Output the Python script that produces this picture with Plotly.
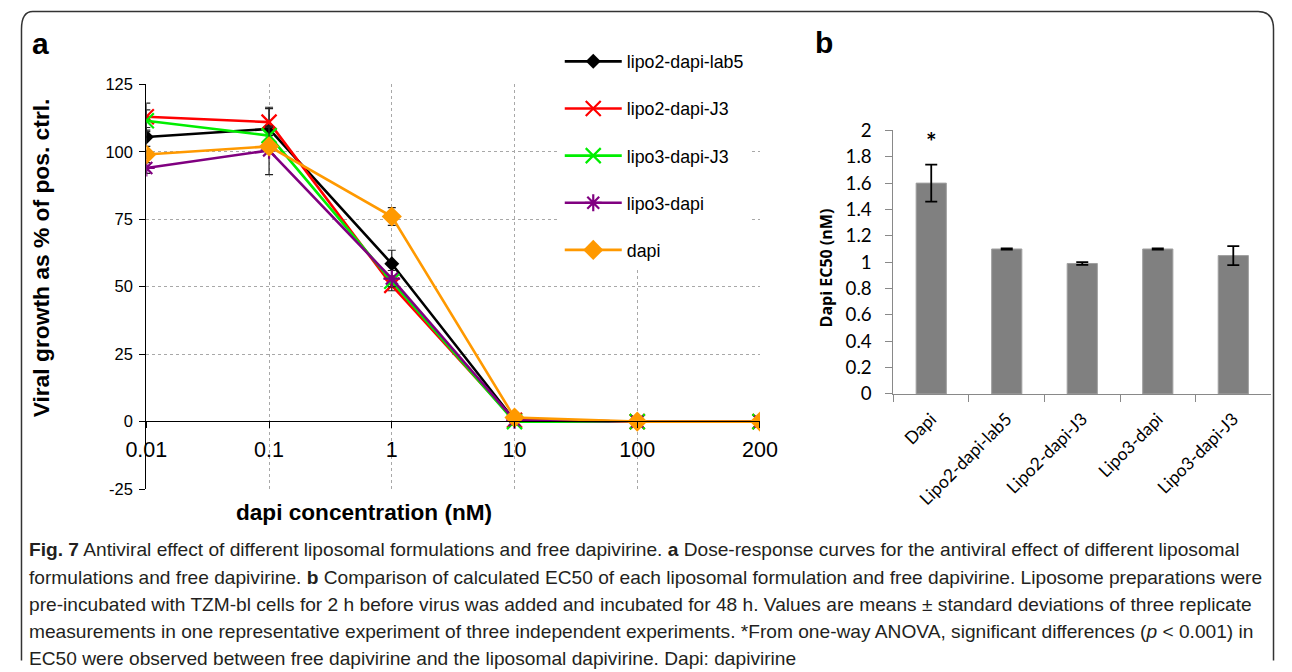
import plotly.graph_objects as go

# ---------------- data ----------------
concentrations = ["0.01", "0.1", "1", "10", "100", "200"]

series_names = ["lipo2-dapi-lab5", "lipo2-dapi-J3", "lipo3-dapi-J3", "lipo3-dapi", "dapi"]
lipo2_dapi_lab5 = [105.5, 108.5, 58.5, 0.5, 0.0, 0.0]
lipo2_dapi_lab5_err = [3.5, 8.0, 5.0, 0.5, 0.0, 0.0]
lipo2_dapi_J3 = [113.0, 111.0, 50.5, 0.5, 0.0, 0.0]
lipo2_dapi_J3_err = [5.0, 5.0, 2.0, 0.3, 0.0, 0.0]
lipo3_dapi_J3 = [111.5, 106.0, 52.0, 0.0, 0.0, 0.0]
lipo3_dapi_J3_err = [4.0, 3.0, 2.0, 0.3, 0.0, 0.0]
lipo3_dapi = [94.0, 100.5, 53.0, 0.5, 0.0, 0.0]
lipo3_dapi_err = [2.0, 9.0, 3.0, 0.3, 0.0, 0.0]
dapi = [99.0, 102.0, 76.0, 1.5, 0.0, 0.0]
dapi_err = [1.5, 2.0, 3.3, 0.5, 0.0, 0.0]

y_ticks_a = [-25, 0, 25, 50, 75, 100, 125]

groups = ["Dapi", "Lipo2-dapi-lab5", "Lipo2-dapi-J3", "Lipo3-dapi", "Lipo3-dapi-J3"]
ec50 = [1.60, 1.10, 0.99, 1.10, 1.05]
ec50_sd = [0.14, 0.004, 0.01, 0.004, 0.072]
y_ticks_b = [0, 0.2, 0.4, 0.6, 0.8, 1, 1.2, 1.4, 1.6, 1.8, 2]

caption_lines = [
    "<b>Fig. 7</b> Antiviral effect of different liposomal formulations and free dapivirine. <b>a</b> Dose-response curves for the antiviral effect of different liposomal",
    "formulations and free dapivirine. <b>b</b> Comparison of calculated EC50 of each liposomal formulation and free dapivirine. Liposome preparations were",
    "pre-incubated with TZM-bl cells for 2 h before virus was added and incubated for 48 h. Values are means ± standard deviations of three replicate",
    "measurements in one representative experiment of three independent experiments. *From one-way ANOVA, significant differences (<i>p</i> &lt; 0.001) in",
    "EC50 were observed between free dapivirine and the liposomal dapivirine. Dapi: dapivirine",
]

# ---------------- layout helpers ----------------
# positions below are pixels of the target picture; the page is photographed
# slightly reduced and offset, so map them back into figure pixels.
W, H = 1292, 672
OX, OY, SX, SY = 18.2, 11.8, 0.9735, 0.9655
def fx(x):
    return min(max((x - OX) / SX, 0.5), W - 0.5)
def fy(y):
    return min(max((y - OY) / SY, 0.5), H - 0.5)
def px(x):
    return fx(x) / W
def py(y):
    return 1 - fy(y) / H

fig = go.Figure()

styles = [
    dict(color="#000000", symbol="diamond", size=11.5, open=False),
    dict(color="#ff0000", symbol="x-thin-open", size=15, open=True),
    dict(color="#00ee00", symbol="x-thin-open", size=15, open=True),
    dict(color="#800080", symbol="asterisk-open", size=14, open=True),
    dict(color="#ff9900", symbol="diamond", size=15.5, open=False),
]
values = [lipo2_dapi_lab5, lipo2_dapi_J3, lipo3_dapi_J3, lipo3_dapi, dapi]
errors = [lipo2_dapi_lab5_err, lipo2_dapi_J3_err, lipo3_dapi_J3_err, lipo3_dapi_err, dapi_err]

for name, vals, errs, st in zip(series_names, values, errors, styles):
    marker = dict(symbol=st["symbol"], size=st["size"], color=st["color"])
    if st["open"]:
        marker["line"] = dict(color=st["color"], width=2.2)
    fig.add_trace(go.Scatter(
        x=concentrations, y=vals, name=name, mode="lines+markers",
        line=dict(color=st["color"], width=2.6),
        marker=marker,
        error_y=dict(type="data", array=errs, visible=True, color="#222222", thickness=1.2, width=4),
        xaxis="x", yaxis="y", legendgroup=name,
    ))

fig.add_trace(go.Bar(
    x=groups, y=ec50, xaxis="x2", yaxis="y2", showlegend=False,
    marker=dict(color="#808080", line=dict(color="#a0a0a0", width=1)),
    error_y=dict(type="data", array=ec50_sd, visible=True, color="#000000", thickness=1.8, width=6),
))

grid = dict(showgrid=True, gridcolor="#a8a8a8", griddash="dot", gridwidth=1)

fig.update_layout(
    width=W, height=H, margin=dict(l=0, r=0, t=0, b=0),
    paper_bgcolor="white", plot_bgcolor="white",
    font=dict(family="Arial, Liberation Sans, sans-serif", color="#000000"),
    bargap=0.6,
    xaxis=dict(
        domain=[px(144), px(760)], type="category", range=[0, 5],
        anchor="free", position=py(421),
        showline=True, linecolor="#000000", linewidth=1.2,
        ticks="outside", ticklen=6, tickcolor="#000000",
        tickfont=dict(size=21.5, family="Arial, Liberation Sans"),
        ticklabelstandoff=3,
        zeroline=False, **grid,
    ),
    yaxis=dict(
        domain=[py(489), py(85)], range=[-25, 125], tickvals=y_ticks_a,
        ticktext=[str(v) for v in y_ticks_a],
        anchor="x", showline=True, linecolor="#000000", linewidth=1.2,
        ticks="outside", ticklen=6, tickcolor="#000000",
        tickfont=dict(size=16.5, family="Arial, Liberation Sans"),
        ticklabelstandoff=3,
        zeroline=True, zerolinecolor="#000000", zerolinewidth=1.2,
        **grid,
    ),
    xaxis2=dict(
        domain=[px(894), px(1273)], anchor="y2", type="category",
        showline=True, linecolor="#898989", linewidth=1.2,
        ticks="outside", ticklen=7, tickcolor="#898989", tickson="boundaries",
        tickangle=-45, tickfont=dict(size=17.5, family="Lato, Carlito, sans-serif"),
        ticklabelstandoff=7,
        showgrid=False,
    ),
    yaxis2=dict(
        domain=[py(394), py(131)], anchor="x2", range=[0, 2], tickvals=y_ticks_b,
        showline=True, linecolor="#898989", linewidth=1.2,
        ticks="outside", ticklen=7, tickcolor="#898989",
        tickfont=dict(size=18.7, family="Lato, Carlito, sans-serif"),
        ticklabelstandoff=10,
        showgrid=False, zeroline=False,
    ),
    legend=dict(
        x=px(559), y=py(44), xanchor="left", yanchor="top",
        bgcolor="white", borderwidth=0,
        font=dict(size=17.8, family="Arial, Liberation Sans"),
        itemwidth=57, traceorder="grouped", tracegroupgap=21,
    ),
)

annotations = [
    dict(text="<b>a</b>", x=px(38), y=py(44), font=dict(size=30)),
    dict(text="<b>b</b>", x=px(824), y=py(43), font=dict(size=30)),
    dict(text="<b>Viral growth as % of pos. ctrl.</b>", x=px(38), y=py(258), textangle=-90, font=dict(size=22.8)),
    dict(text="<b>dapi concentration (nM)</b>", x=px(363), y=py(512), font=dict(size=22.6)),
    dict(text="<b>Dapi EC50 (nM)</b>", x=px(826), y=py(268), textangle=-90,
         font=dict(size=16, family="Open Sans, sans-serif")),
]
for a in annotations:
    a.update(xref="paper", yref="paper", showarrow=False, xanchor="center", yanchor="middle")
fig.update_layout(annotations=annotations)

fig.add_annotation(x=groups[0], y=1.92, xref="x2", yref="y2", text="<b>*</b>", showarrow=False,
                   font=dict(size=25, family="Lato, sans-serif"))

line_y = [549, 577, 604, 631, 658]
for txt, yy in zip(caption_lines, line_y):
    fig.add_annotation(x=px(24), y=py(yy), xref="paper", yref="paper", text=txt, showarrow=False,
                       xanchor="left", yanchor="middle",
                       font=dict(size=19.15, family="Liberation Sans, Arial, sans-serif", color="#231f20"))

# rounded frame around the whole figure
def P(x, y):
    return f"{px(x):.5f},{py(y):.5f}"
path = (f"M {P(9, 700)} L {P(9, 30)} Q {P(9, 8.5)} {P(30, 8.5)} "
        f"L {P(1260, 8.5)} Q {P(1291, 8.5)} {P(1291, 30)} L {P(1291, 700)}")
fig.add_shape(type="path", path=path, xref="paper", yref="paper",
              line=dict(color="#333333", width=1.5))

fig.write_html("out.html", config={"displayModeBar": False},
               post_script="document.body.style.margin='0';document.body.style.overflow='hidden';")
